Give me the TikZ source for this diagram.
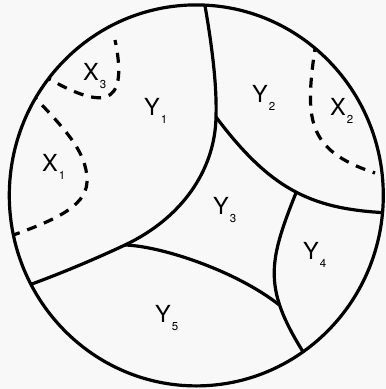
\documentclass[tikz,border=0pt]{standalone}
\usepackage{fontspec}
\setmainfont{TeX Gyre Heros}
\definecolor{bg}{RGB}{248,248,248}
\newcommand{\reg}[2]{#1\kern1pt\raisebox{-8pt}{\fontsize{11.5}{12}\selectfont #2}}

\begin{document}
\begin{tikzpicture}[x=1pt,y=-1pt,
  wall/.style={line width=3.2pt,line join=round},
  cut/.style={line width=3.2pt,dash pattern=on 10pt off 8pt},
  lab/.style={anchor=base west,inner sep=0pt,font=\fontsize{23.5}{24}\selectfont}]
\fill[bg] (0,0) rectangle (386,389);
\useasboundingbox (0,0) rectangle (386,389);
\begin{scope}
\clip (196.3,195.4) ellipse[x radius=187,y radius=190.5];
% region walls
\draw[wall] (204,0) .. controls (212,45) and (217,85) .. (216,117) coordinate (j1)
  .. controls (215,170) and (182,218) .. (125,245) coordinate (j2)
  .. controls (93,260) and (55,276) .. (18,289);
\draw[wall] (j1) .. controls (273,193) and (315,209.5) .. (390,213) coordinate[pos=0.5] (j3);
\draw[wall] (j3) .. controls (267.75,263.5) and (262.5,289) .. (307,358) coordinate[pos=0.7] (j4);
\draw[wall] (j2) .. controls (160,246) and (235,270) .. (j4);
% dashed pieces
\draw[cut] (42,75) .. controls (99,108) and (130,112) .. (115,40);
\draw[cut] (30,92) .. controls (60,125) and (88,150) .. (87,182)
  .. controls (86,208) and (50,222) .. (5,238);
\draw[cut] (316,42) .. controls (304.5,118) and (305,150) .. (375,173);
\end{scope}
\draw[wall] (196.3,195.4) ellipse[x radius=187,y radius=190.5];
% labels
\node[lab] (x3) at (83,80) {\reg{X}{3}};
\node[lab] (y1) at (144,115) {\reg{Y}{1}};
\node[lab] (x1) at (42,171) {\reg{X}{1}};
\node[lab] (y2) at (252,102) {\reg{Y}{2}};
\node[lab] (x2) at (330,115) {\reg{X}{2}};
\node[lab] (y3) at (213,214) {\reg{Y}{3}};
\node[lab] (y4) at (303,259) {\reg{Y}{4}};
\node[lab] (y5) at (155,322) {\reg{Y}{5}};
\end{tikzpicture}
\end{document}
